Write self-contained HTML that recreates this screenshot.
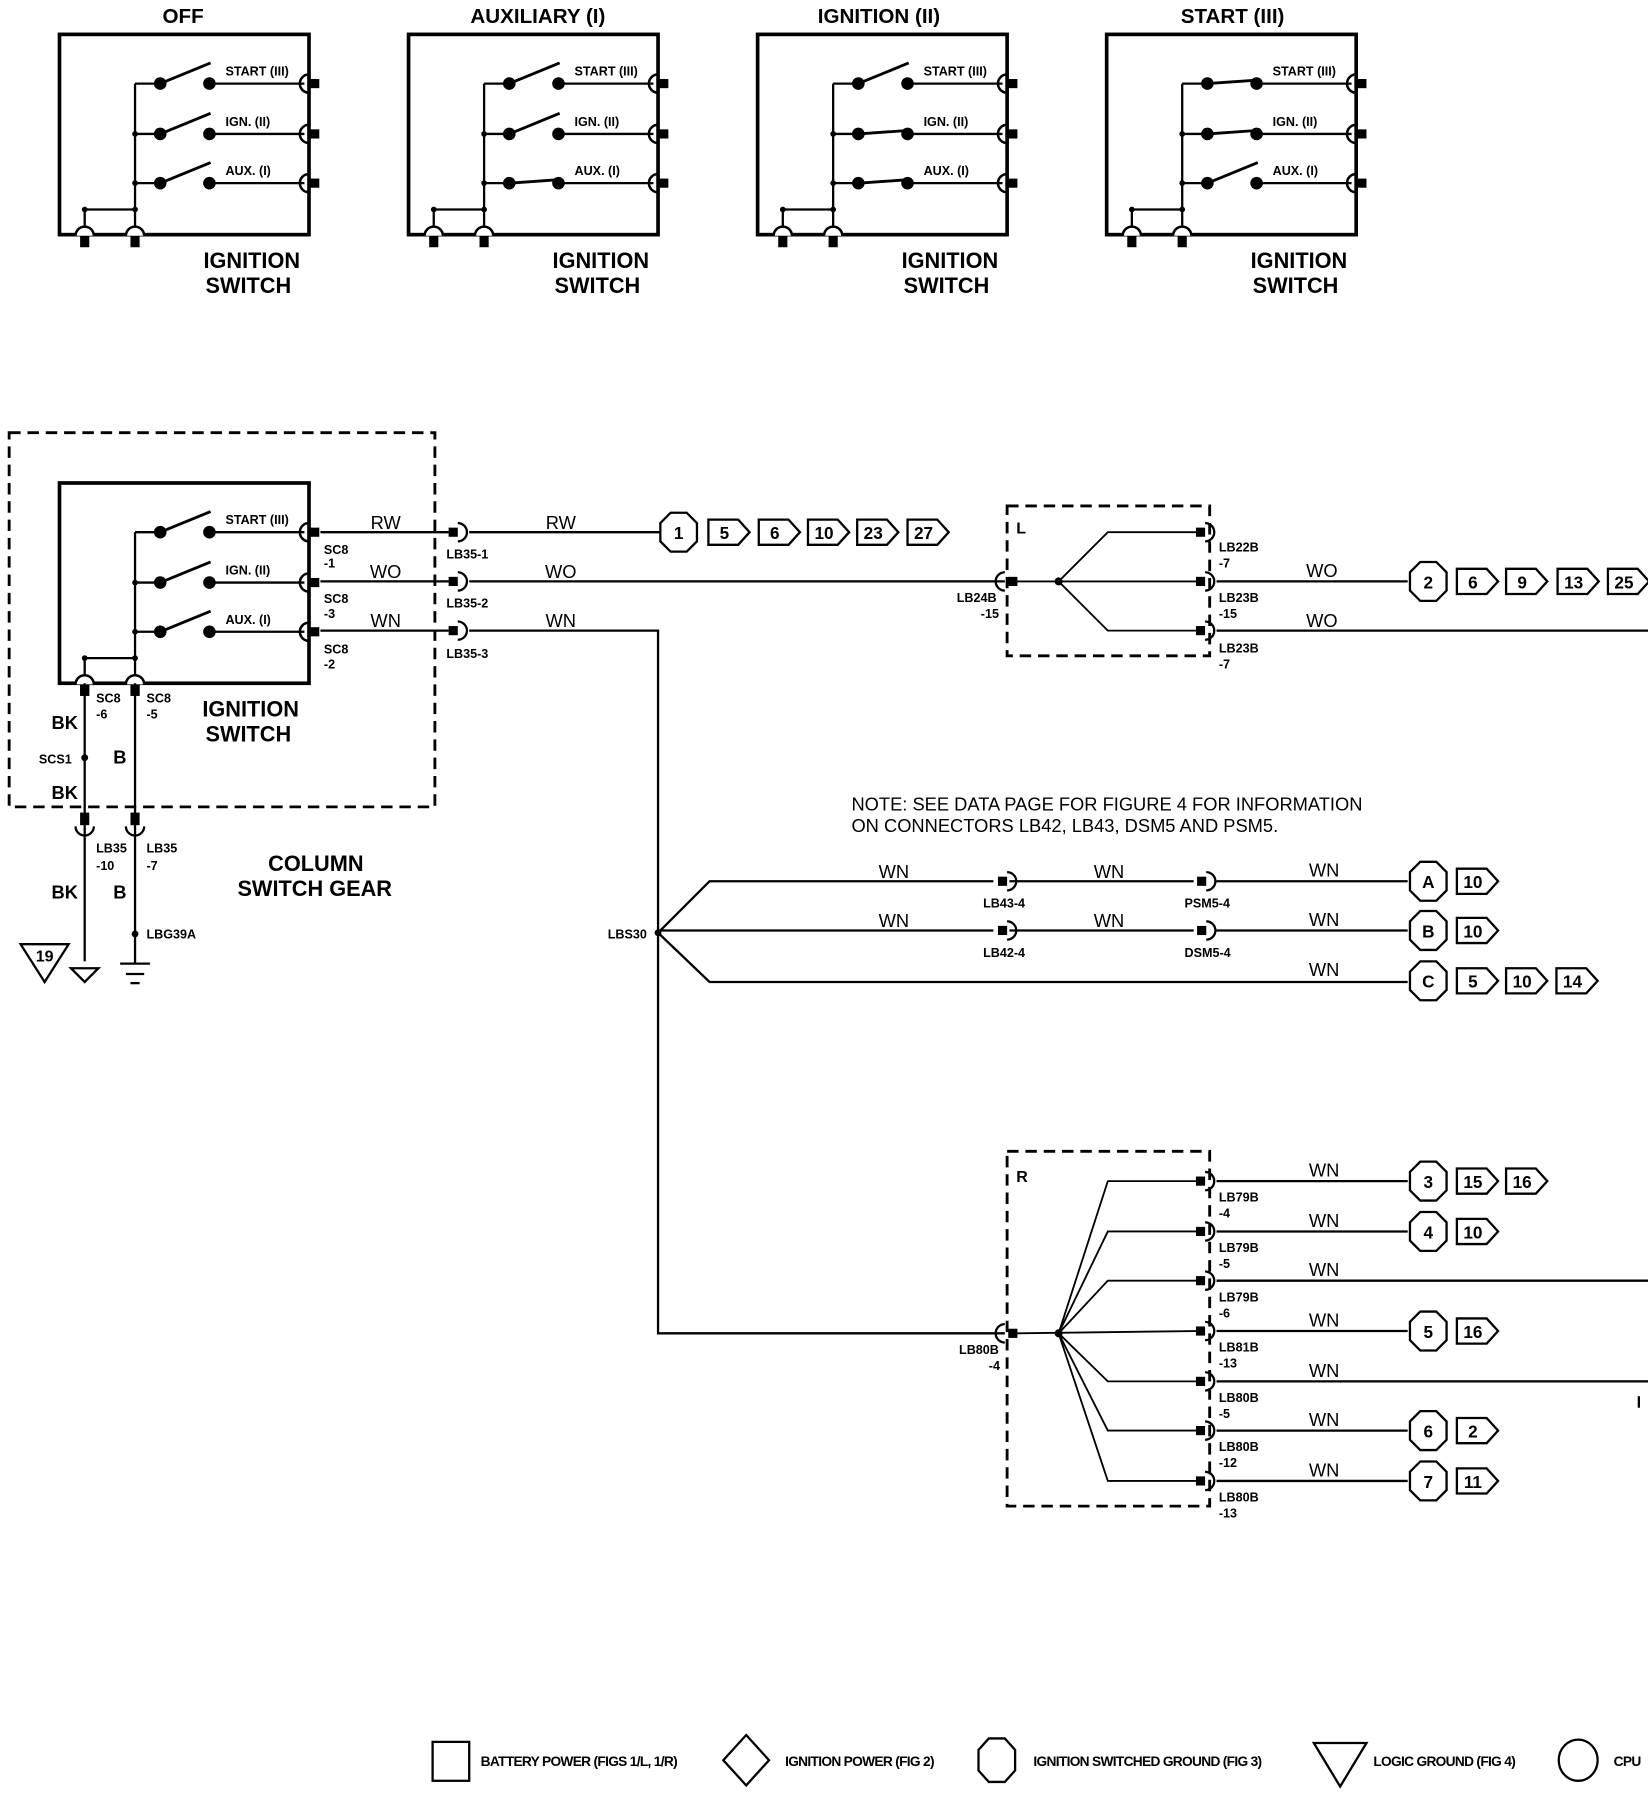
<!DOCTYPE html>
<html><head><meta charset="utf-8"><style>
html,body{margin:0;padding:0;background:#fff}
svg{display:block}
text{font-family:"Liberation Sans Narrow","Liberation Sans",sans-serif;fill:#000}
.b{font-weight:bold}
</style></head><body>
<svg width="1648" height="1798" viewBox="0 0 1440 1571" xmlns="http://www.w3.org/2000/svg">
<defs>
<g id="cr"><rect x="-10" y="-4" width="8" height="8"/><path d="M-2,-8 a8,8 0 0 1 0,16" fill="none" stroke="#000" stroke-width="2"/></g>
<g id="cl"><rect x="4" y="-4" width="9" height="8"/><path d="M4,-8 a8,8 0 0 0 0,16" fill="none" stroke="#000" stroke-width="2.2"/></g>
<g id="cb"><rect x="-4" y="2" width="8" height="10"/><path d="M-8,2 a8,8 0 0 1 16,0" fill="#fff" stroke="#000" stroke-width="2.2"/></g>
<g id="cd"><rect x="-4" y="-12" width="8" height="11"/><path d="M-8,0 a8,8 0 0 0 16,0" fill="none" stroke="#000" stroke-width="2"/></g>
<g id="base">
<rect x="52" y="30" width="218" height="175" fill="none" stroke="#000" stroke-width="3.2"/>
<g stroke="#000" stroke-width="2">
<line x1="118" y1="73" x2="118" y2="205"/>
<line x1="74" y1="183" x2="118" y2="183"/>
<line x1="74" y1="183" x2="74" y2="205"/>
<line x1="118" y1="73" x2="140" y2="73"/><line x1="118" y1="117" x2="140" y2="117"/><line x1="118" y1="160" x2="140" y2="160"/>
<line x1="183" y1="73" x2="266" y2="73"/><line x1="183" y1="117" x2="266" y2="117"/><line x1="183" y1="160" x2="266" y2="160"/>
</g>
<circle cx="118" cy="117" r="2.5"/><circle cx="118" cy="160" r="2.5"/><circle cx="118" cy="183" r="2.5"/><circle cx="74" cy="183" r="2.5"/>
<circle cx="140" cy="73" r="5.5"/><circle cx="183" cy="73" r="5.5"/>
<circle cx="140" cy="117" r="5.5"/><circle cx="183" cy="117" r="5.5"/>
<circle cx="140" cy="160" r="5.5"/><circle cx="183" cy="160" r="5.5"/>
<use href="#cl" x="266" y="73"/><use href="#cl" x="266" y="117"/><use href="#cl" x="266" y="160"/>
<use href="#cb" x="74" y="204"/><use href="#cb" x="118" y="204"/>
<text x="197" y="66" font-size="11" class="b">START (III)</text>
<text x="197" y="110" font-size="11" class="b">IGN. (II)</text>
<text x="197" y="153" font-size="11" class="b">AUX. (I)</text>
</g>
<g id="o1" stroke="#000" stroke-width="2.5"><line x1="140" y1="73" x2="184" y2="55"/></g>
<g id="o2" stroke="#000" stroke-width="2.5"><line x1="140" y1="117" x2="184" y2="99"/></g>
<g id="o3" stroke="#000" stroke-width="2.5"><line x1="140" y1="160" x2="184" y2="142"/></g>
<g id="k1" stroke="#000" stroke-width="2.5"><line x1="140" y1="73" x2="183" y2="70"/></g>
<g id="k2" stroke="#000" stroke-width="2.5"><line x1="140" y1="117" x2="183" y2="114"/></g>
<g id="k3" stroke="#000" stroke-width="2.5"><line x1="140" y1="160" x2="183" y2="157"/></g>
<g id="isw"><text x="220" y="234" font-size="19" class="b" text-anchor="middle">IGNITION</text><text x="217" y="256" font-size="19" class="b" text-anchor="middle">SWITCH</text></g>
<path id="oct" d="M-7,-17 h14 l9,9 v16 l-9,9 h-14 l-9,-9 v-16 z" fill="#fff" stroke="#000" stroke-width="2"/>
</defs>

<!-- top four -->
<text x="160" y="20" font-size="18" class="b" text-anchor="middle">OFF</text>
<use href="#base"/><use href="#o1"/><use href="#o2"/><use href="#o3"/><use href="#isw"/>

<text x="470" y="20" font-size="18" class="b" text-anchor="middle">AUXILIARY (I)</text>
<g transform="translate(305,0)"><use href="#base"/><use href="#o1"/><use href="#o2"/><use href="#k3"/><use href="#isw"/></g>

<text x="768" y="20" font-size="18" class="b" text-anchor="middle">IGNITION (II)</text>
<g transform="translate(610,0)"><use href="#base"/><use href="#o1"/><use href="#k2"/><use href="#k3"/><use href="#isw"/></g>

<text x="1077" y="20" font-size="18" class="b" text-anchor="middle">START (III)</text>
<g transform="translate(915,0)"><use href="#base"/><use href="#k1"/><use href="#k2"/><use href="#o3"/><use href="#isw"/></g>

<!-- main switch -->
<rect x="8" y="378" width="372" height="327" fill="none" stroke="#000" stroke-width="2.5" stroke-dasharray="10,6"/>
<g transform="translate(0,392)"><use href="#base"/><use href="#o1"/><use href="#o2"/><use href="#o3"/></g>
<text x="219" y="626" font-size="19" class="b" text-anchor="middle">IGNITION</text>
<text x="217" y="648" font-size="19" class="b" text-anchor="middle">SWITCH</text>

<g stroke="#000" stroke-width="2" fill="none">
<line x1="280" y1="465" x2="392" y2="465"/><line x1="410" y1="465" x2="577" y2="465"/>
<line x1="280" y1="508" x2="392" y2="508"/><line x1="410" y1="508" x2="878" y2="508"/>
<line x1="280" y1="551" x2="392" y2="551"/><polyline points="410,551 575,551 575,1165 878,1165"/>
<line x1="74" y1="597" x2="74" y2="840"/><line x1="118" y1="597" x2="118" y2="842"/>
</g>
<use href="#cr" x="402" y="465"/><use href="#cr" x="402" y="508"/><use href="#cr" x="402" y="551"/>
<use href="#cd" x="74" y="722"/><use href="#cd" x="118" y="722"/>
<circle cx="74" cy="662" r="3"/><circle cx="118" cy="816" r="3"/>
<rect x="70" y="598" width="8" height="10"/><rect x="114" y="598" width="8" height="10"/>

<g font-size="16">
<text x="337" y="462" text-anchor="middle">RW</text><text x="337" y="505" text-anchor="middle">WO</text><text x="337" y="548" text-anchor="middle">WN</text>
<text x="490" y="462" text-anchor="middle">RW</text><text x="490" y="505" text-anchor="middle">WO</text><text x="490" y="548" text-anchor="middle">WN</text>
</g>
<g font-size="11" class="b">
<text x="283" y="484">SC8</text><text x="283" y="496">-1</text>
<text x="283" y="527">SC8</text><text x="283" y="540">-3</text>
<text x="283" y="571">SC8</text><text x="283" y="584">-2</text>
<text x="390" y="488">LB35-1</text><text x="390" y="531">LB35-2</text><text x="390" y="575">LB35-3</text>
<text x="84" y="614">SC8</text><text x="84" y="628">-6</text>
<text x="128" y="614">SC8</text><text x="128" y="628">-5</text>
<text x="34" y="667">SCS1</text>
<text x="84" y="745">LB35</text><text x="84" y="760">-10</text>
<text x="128" y="745">LB35</text><text x="128" y="760">-7</text>
<text x="128" y="820">LBG39A</text>
<text x="531" y="820">LBS30</text>
</g>
<g font-size="16" class="b">
<text x="45" y="637">BK</text><text x="99" y="667">B</text><text x="45" y="698">BK</text>
<text x="45" y="785">BK</text><text x="99" y="785">B</text>
</g>
<text x="276" y="761" font-size="19" class="b" text-anchor="middle">COLUMN</text>
<text x="275" y="783" font-size="19" class="b" text-anchor="middle">SWITCH GEAR</text>
<path d="M18,825 L60,825 L39,858 Z" fill="none" stroke="#000" stroke-width="2"/>
<text x="39" y="840" font-size="14" class="b" text-anchor="middle">19</text>
<path d="M62,846 L86,846 L74,858 Z" fill="none" stroke="#000" stroke-width="2"/>
<g stroke="#000" stroke-width="2"><line x1="105" y1="842" x2="131" y2="842"/><line x1="110" y1="851" x2="126" y2="851"/><line x1="114" y1="859" x2="122" y2="859"/></g>

<!-- tags -->
<defs>
<g id="t36"><path d="M0,-11 h26 l10,11 l-10,11 h-26 z" fill="#fff" stroke="#000" stroke-width="2"/></g>
</defs>
<g font-size="15" class="b" text-anchor="middle">
<use href="#oct" x="593" y="465"/><text x="593" y="471">1</text>
<use href="#t36" x="619" y="465"/><text x="633" y="471">5</text>
<use href="#t36" x="663" y="465"/><text x="677" y="471">6</text>
<use href="#t36" x="706" y="465"/><text x="720" y="471">10</text>
<use href="#t36" x="749" y="465"/><text x="763" y="471">23</text>
<use href="#t36" x="793" y="465"/><text x="807" y="471">27</text>
</g>

<!-- L box -->
<rect x="880" y="442" width="177" height="131" fill="none" stroke="#000" stroke-width="2.5" stroke-dasharray="10,6"/>
<text x="888" y="466" font-size="14" class="b">L</text>
<path d="M878,500 a8,8 0 0 0 0,16" fill="none" stroke="#000" stroke-width="2"/><rect x="881" y="504" width="8" height="8"/>
<g stroke="#000" stroke-width="1.6" fill="none">
<line x1="889" y1="508" x2="1045" y2="508"/>
<polyline points="925,508 968,465 1045,465"/>
<polyline points="925,508 968,551 1045,551"/>
</g>
<circle cx="925" cy="508" r="3.5"/>
<use href="#cr" x="1055" y="465"/><use href="#cr" x="1055" y="508"/><use href="#cr" x="1055" y="551"/>
<g stroke="#000" stroke-width="2"><line x1="1063" y1="508" x2="1230" y2="508"/><line x1="1063" y1="551" x2="1440" y2="551"/></g>
<g font-size="11" class="b">
<text x="1065" y="482">LB22B</text><text x="1065" y="496">-7</text>
<text x="1065" y="526">LB23B</text><text x="1065" y="540">-15</text>
<text x="1065" y="570">LB23B</text><text x="1065" y="584">-7</text>
<text x="836" y="526">LB24B</text><text x="857" y="540">-15</text>
</g>
<text x="1155" y="504" font-size="16" text-anchor="middle">WO</text>
<text x="1155" y="548" font-size="16" text-anchor="middle">WO</text>
<g font-size="15" class="b" text-anchor="middle">
<use href="#oct" x="1248" y="508"/><text x="1248" y="514">2</text>
<use href="#t36" x="1273" y="508"/><text x="1287" y="514">6</text>
<use href="#t36" x="1316" y="508"/><text x="1330" y="514">9</text>
<use href="#t36" x="1361" y="508"/><text x="1375" y="514">13</text>
<use href="#t36" x="1405" y="508"/><text x="1419" y="514">25</text>
</g>

<!-- note -->
<text x="744" y="708" font-size="16">NOTE: SEE DATA PAGE FOR FIGURE 4 FOR INFORMATION</text>
<text x="744" y="727" font-size="16">ON CONNECTORS LB42, LB43, DSM5 AND PSM5.</text>

<!-- LBS30 branches -->
<g stroke="#000" stroke-width="2" fill="none">
<polyline points="575,815 620,770 868,770"/><line x1="882" y1="770" x2="1043" y2="770"/><line x1="1063" y1="770" x2="1230" y2="770"/>
<line x1="575" y1="813" x2="868" y2="813"/><line x1="882" y1="813" x2="1043" y2="813"/><line x1="1063" y1="813" x2="1230" y2="813"/>
<polyline points="575,815 620,858 1230,858"/>
</g>
<circle cx="575" cy="815" r="3"/>
<use href="#cr" x="882" y="770"/><use href="#cr" x="1056" y="770"/>
<use href="#cr" x="882" y="813"/><use href="#cr" x="1056" y="813"/>
<g font-size="16" text-anchor="middle">
<text x="781" y="767">WN</text><text x="969" y="767">WN</text><text x="1157" y="766">WN</text>
<text x="781" y="810">WN</text><text x="969" y="810">WN</text><text x="1157" y="809">WN</text>
<text x="1157" y="853">WN</text>
</g>
<g font-size="11" class="b">
<text x="859" y="793">LB43-4</text><text x="1035" y="793">PSM5-4</text>
<text x="859" y="836">LB42-4</text><text x="1035" y="836">DSM5-4</text>
</g>
<g font-size="15" class="b" text-anchor="middle">
<use href="#oct" x="1248" y="770"/><text x="1248" y="776">A</text>
<use href="#t36" x="1273" y="770"/><text x="1287" y="776">10</text>
<use href="#oct" x="1248" y="813"/><text x="1248" y="819">B</text>
<use href="#t36" x="1273" y="813"/><text x="1287" y="819">10</text>
<use href="#oct" x="1248" y="857"/><text x="1248" y="863">C</text>
<use href="#t36" x="1273" y="857"/><text x="1287" y="863">5</text>
<use href="#t36" x="1316" y="857"/><text x="1330" y="863">10</text>
<use href="#t36" x="1360" y="857"/><text x="1374" y="863">14</text>
</g>

<!-- R box -->
<rect x="880" y="1006" width="177" height="310" fill="none" stroke="#000" stroke-width="2.5" stroke-dasharray="10,6"/>
<text x="888" y="1033" font-size="14" class="b">R</text>
<path d="M878,1157 a8,8 0 0 0 0,16" fill="none" stroke="#000" stroke-width="2"/><rect x="881" y="1161" width="8" height="8"/>
<g stroke="#000" stroke-width="1.6" fill="none">
<line x1="889" y1="1165" x2="1045" y2="1163"/>
<polyline points="925,1165 968,1032 1045,1032"/>
<polyline points="925,1165 968,1076 1045,1076"/>
<polyline points="925,1165 968,1119 1045,1119"/>
<polyline points="925,1165 968,1207 1045,1207"/>
<polyline points="925,1165 968,1250 1045,1250"/>
<polyline points="925,1165 968,1294 1045,1294"/>
</g>
<circle cx="925" cy="1165" r="3.5"/>
<use href="#cr" x="1055" y="1032"/><use href="#cr" x="1055" y="1076"/><use href="#cr" x="1055" y="1119"/><use href="#cr" x="1055" y="1163"/><use href="#cr" x="1055" y="1207"/><use href="#cr" x="1055" y="1250"/><use href="#cr" x="1055" y="1294"/>
<g stroke="#000" stroke-width="2">
<line x1="1063" y1="1032" x2="1230" y2="1032"/><line x1="1063" y1="1076" x2="1230" y2="1076"/>
<line x1="1063" y1="1119" x2="1440" y2="1119"/><line x1="1063" y1="1163" x2="1230" y2="1163"/>
<line x1="1063" y1="1207" x2="1440" y2="1207"/><line x1="1063" y1="1250" x2="1230" y2="1250"/>
<line x1="1063" y1="1294" x2="1230" y2="1294"/>
<line x1="1432" y1="1220" x2="1432" y2="1230"/>
</g>
<g font-size="11" class="b">
<text x="1065" y="1050">LB79B</text><text x="1065" y="1064">-4</text>
<text x="1065" y="1094">LB79B</text><text x="1065" y="1108">-5</text>
<text x="1065" y="1137">LB79B</text><text x="1065" y="1151">-6</text>
<text x="1065" y="1181">LB81B</text><text x="1065" y="1195">-13</text>
<text x="1065" y="1225">LB80B</text><text x="1065" y="1239">-5</text>
<text x="1065" y="1268">LB80B</text><text x="1065" y="1282">-12</text>
<text x="1065" y="1312">LB80B</text><text x="1065" y="1326">-13</text>
<text x="838" y="1183">LB80B</text><text x="864" y="1197">-4</text>
</g>
<g font-size="16" text-anchor="middle">
<text x="1157" y="1028">WN</text><text x="1157" y="1072">WN</text><text x="1157" y="1115">WN</text>
<text x="1157" y="1159">WN</text><text x="1157" y="1203">WN</text><text x="1157" y="1246">WN</text><text x="1157" y="1290">WN</text>
</g>
<g font-size="15" class="b" text-anchor="middle">
<use href="#oct" x="1248" y="1032"/><text x="1248" y="1038">3</text>
<use href="#t36" x="1273" y="1032"/><text x="1287" y="1038">15</text>
<use href="#t36" x="1316" y="1032"/><text x="1330" y="1038">16</text>
<use href="#oct" x="1248" y="1076"/><text x="1248" y="1082">4</text>
<use href="#t36" x="1273" y="1076"/><text x="1287" y="1082">10</text>
<use href="#oct" x="1248" y="1163"/><text x="1248" y="1169">5</text>
<use href="#t36" x="1273" y="1163"/><text x="1287" y="1169">16</text>
<use href="#oct" x="1248" y="1250"/><text x="1248" y="1256">6</text>
<use href="#t36" x="1273" y="1250"/><text x="1287" y="1256">2</text>
<use href="#oct" x="1248" y="1294"/><text x="1248" y="1300">7</text>
<use href="#t36" x="1273" y="1294"/><text x="1287" y="1300">11</text>
</g>

<!-- legend -->
<g fill="none" stroke="#000" stroke-width="2">
<rect x="378" y="1522" width="32" height="34"/>
<path d="M652,1516 L672,1538 L652,1560 L632,1538 Z"/>
<path d="M864,1519 h14 l9,10 v18 l-9,10 h-14 l-9,-10 v-18 z"/>
<path d="M1148,1523 L1194,1523 L1171,1561 Z"/>
<ellipse cx="1379" cy="1538" rx="17" ry="18"/>
</g>
<g font-size="12" class="b" letter-spacing="-0.6">
<text x="420" y="1543">BATTERY POWER (FIGS 1/L, 1/R)</text>
<text x="686" y="1543">IGNITION POWER (FIG 2)</text>
<text x="903" y="1543">IGNITION SWITCHED GROUND (FIG 3)</text>
<text x="1200" y="1543">LOGIC GROUND (FIG 4)</text>
<text x="1410" y="1543">CPU</text>
</g>
</svg>
</body></html>
